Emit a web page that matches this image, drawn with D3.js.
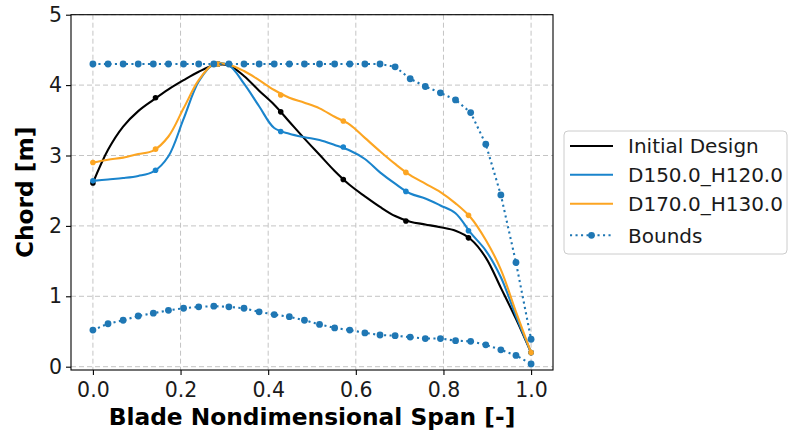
<!DOCTYPE html>
<html>
<head>
<meta charset="utf-8">
<script src="https://cdn.jsdelivr.net/npm/d3@7"></script>
<style>
  html, body { margin: 0; padding: 0; background: #fff; }
  svg { display: block; font-family: "DejaVu Sans", sans-serif; }
</style>
</head>
<body>
<svg id="chart" width="788" height="433"></svg>
<script>
// Spanwise stations where the chord distributions are evaluated
const stations = [0, 0.0345, 0.0690, 0.1034, 0.1379, 0.1724, 0.2069, 0.2414, 0.2759, 0.3103,
  0.3448, 0.3793, 0.4138, 0.4483, 0.4828, 0.5172, 0.5517, 0.5862, 0.6207, 0.6552,
  0.6897, 0.7241, 0.7586, 0.7931, 0.8276, 0.8621, 0.8966, 0.9310, 0.9655, 1.0];

// Design control points (spline knots)
const controlSpan = [0, 0.1429, 0.2857, 0.4286, 0.5714, 0.7143, 0.8571, 1.0];

// Initial design
const initialChord = [2.61, 3.08, 3.41, 3.63, 3.79, 3.94, 4.07, 4.19, 4.28, 4.28,
  4.13, 3.92, 3.72, 3.48, 3.24, 3.01, 2.78, 2.58, 2.42, 2.27,
  2.14, 2.06, 2.02, 1.98, 1.93, 1.81, 1.55, 1.12, 0.68, 0.20];
const initialCtrl = [2.61, 3.82, 4.30, 3.62, 2.66, 2.07, 1.83, 0.20];

// D150.0_H120.0
const d150Chord = [2.64, 2.66, 2.68, 2.71, 2.77, 2.99, 3.52, 4.05, 4.30, 4.28,
  4.02, 3.70, 3.39, 3.31, 3.26, 3.22, 3.15, 3.07, 2.95, 2.76,
  2.60, 2.46, 2.39, 2.29, 2.18, 1.90, 1.65, 1.27, 0.72, 0.20];
const d150Ctrl = [2.64, 2.79, 4.30, 3.34, 3.12, 2.49, 1.93, 0.20];

// D170.0_H130.0
const d170Chord = [2.90, 2.94, 2.97, 3.02, 3.07, 3.27, 3.67, 4.07, 4.30, 4.29,
  4.20, 4.07, 3.93, 3.82, 3.75, 3.67, 3.55, 3.44, 3.25, 3.06,
  2.88, 2.72, 2.60, 2.48, 2.32, 2.12, 1.80, 1.38, 0.78, 0.20];
const d170Ctrl = [2.90, 3.09, 4.30, 3.86, 3.49, 2.76, 2.15, 0.20];

// Chord bounds
const upperBound = [4.30, 4.30, 4.30, 4.30, 4.30, 4.30, 4.30, 4.30, 4.30, 4.30,
  4.30, 4.30, 4.30, 4.30, 4.30, 4.30, 4.30, 4.30, 4.30, 4.30,
  4.26, 4.09, 3.98, 3.89, 3.79, 3.61, 3.16, 2.44, 1.48, 0.39];
const lowerBound = [0.52, 0.61, 0.66, 0.72, 0.76, 0.80, 0.83, 0.85, 0.86, 0.85,
  0.83, 0.78, 0.74, 0.71, 0.66, 0.60, 0.55, 0.52, 0.48, 0.45,
  0.44, 0.42, 0.40, 0.40, 0.37, 0.36, 0.31, 0.24, 0.16, 0.04];

const xTicks = [0, 0.2, 0.4, 0.6, 0.8, 1.0];
const yTicks = [0, 1, 2, 3, 4, 5];

const seriesNames = ["Initial Design", "D150.0_H120.0", "D170.0_H130.0", "Bounds"];
const colors = { initial: "#000000", d150: "#1a84cc", d170: "#fca522", bounds: "#1f77b4" };

const svg = d3.select("#chart");
const plot = { left: 71, right: 553, top: 14.7, bottom: 370 };

const x = d3.scaleLinear().domain([-0.05, 1.05]).range([plot.left, plot.right]);
const y = d3.scaleLinear().domain([-0.047, 5]).range([plot.bottom, plot.top]);

// grid
const grid = svg.append("g").attr("stroke", "#c4c4c4").attr("stroke-width", 1)
  .attr("stroke-dasharray", "5,3");
grid.selectAll("line.vx").data(xTicks).join("line")
  .attr("x1", d => x(d)).attr("x2", d => x(d))
  .attr("y1", plot.top).attr("y2", plot.bottom);
grid.selectAll("line.hy").data(yTicks).join("line")
  .attr("y1", d => y(d)).attr("y2", d => y(d))
  .attr("x1", plot.left).attr("x2", plot.right);

const smoothLine = d3.line().x(d => x(d[0])).y(d => y(d[1])).curve(d3.curveCatmullRom.alpha(0.5));
const straightLine = d3.line().x(d => x(d[0])).y(d => y(d[1]));

function drawDesign(vals, ctrl, color, r) {
  svg.append("path")
    .datum(stations.map((s, i) => [s, vals[i]]))
    .attr("d", smoothLine)
    .attr("fill", "none").attr("stroke", color).attr("stroke-width", 2.1)
    .attr("stroke-linejoin", "round").attr("stroke-linecap", "round");
  svg.append("g").selectAll("circle")
    .data(controlSpan.map((s, i) => [s, ctrl[i]]))
    .join("circle")
    .attr("cx", d => x(d[0])).attr("cy", d => y(d[1]))
    .attr("r", r).attr("fill", color);
}

drawDesign(initialChord, initialCtrl, colors.initial, 2.8);
drawDesign(d150Chord, d150Ctrl, colors.d150, 2.8);
drawDesign(d170Chord, d170Ctrl, colors.d170, 2.8);

function drawBound(vals) {
  svg.append("path")
    .datum(stations.map((s, i) => [s, vals[i]]))
    .attr("d", straightLine)
    .attr("fill", "none").attr("stroke", colors.bounds).attr("stroke-width", 2.1)
    .attr("stroke-dasharray", "2.1,3.4");
  svg.append("g").selectAll("circle")
    .data(stations.map((s, i) => [s, vals[i]]))
    .join("circle")
    .attr("cx", d => x(d[0])).attr("cy", d => y(d[1]))
    .attr("r", 3.4).attr("fill", colors.bounds);
}
drawBound(upperBound);
drawBound(lowerBound);

// frame
svg.append("rect")
  .attr("x", plot.left).attr("y", plot.top)
  .attr("width", plot.right - plot.left).attr("height", plot.bottom - plot.top)
  .attr("fill", "none").attr("stroke", "#000").attr("stroke-width", 1.1);

// axes
const xAxis = svg.append("g").attr("transform", `translate(0,${plot.bottom})`)
  .call(d3.axisBottom(x).tickValues(xTicks).tickFormat(d3.format(".1f"))
    .tickSize(5).tickPadding(7).tickSizeOuter(0));
const yAxis = svg.append("g").attr("transform", `translate(${plot.left},0)`)
  .call(d3.axisLeft(y).tickValues(yTicks).tickFormat(d3.format("d"))
    .tickSize(5).tickPadding(4).tickSizeOuter(0));
[xAxis, yAxis].forEach(a => {
  a.select(".domain").remove();
  a.selectAll(".tick line").attr("stroke", "#000").attr("stroke-width", 1.1);
  a.selectAll(".tick text").attr("fill", "#1a1a1a")
    .style("font-family", "'DejaVu Sans', sans-serif").style("font-size", "20.5px");
});

// axis titles
svg.append("text")
  .attr("x", (plot.left + plot.right) / 2).attr("y", 425)
  .attr("text-anchor", "middle")
  .style("font-weight", "bold").style("font-size", "23.3px")
  .text("Blade Nondimensional Span [-]");
svg.append("text")
  .attr("transform", `translate(33,${(plot.top + plot.bottom) / 2}) rotate(-90)`)
  .attr("text-anchor", "middle")
  .style("font-weight", "bold").style("font-size", "23.3px")
  .text("Chord [m]");

// legend
const legend = svg.append("g");
legend.append("rect")
  .attr("x", 564).attr("y", 131).attr("width", 223).attr("height", 123).attr("rx", 4)
  .attr("fill", "#fff").attr("fill-opacity", 0.8)
  .attr("stroke", "#cccccc").attr("stroke-width", 1);
const rowsY = [146, 174.8, 203.8, 235.3];
const legendColors = [colors.initial, colors.d150, colors.d170, colors.bounds];
seriesNames.forEach((name, i) => {
  const ly = rowsY[i];
  const h = legend.append("line")
    .attr("x1", 570).attr("x2", 613).attr("y1", ly).attr("y2", ly)
    .attr("stroke", legendColors[i]).attr("stroke-width", 2.1);
  if (name === "Bounds") {
    h.attr("stroke-dasharray", "2.1,3.4");
    legend.append("circle").attr("cx", 591.5).attr("cy", ly).attr("r", 3.4)
      .attr("fill", colors.bounds);
  }
  legend.append("text")
    .attr("x", 628).attr("y", ly).attr("dy", "0.36em")
    .style("font-size", "20px").attr("fill", "#1a1a1a")
    .text(name);
});
</script>
</body>
</html>
